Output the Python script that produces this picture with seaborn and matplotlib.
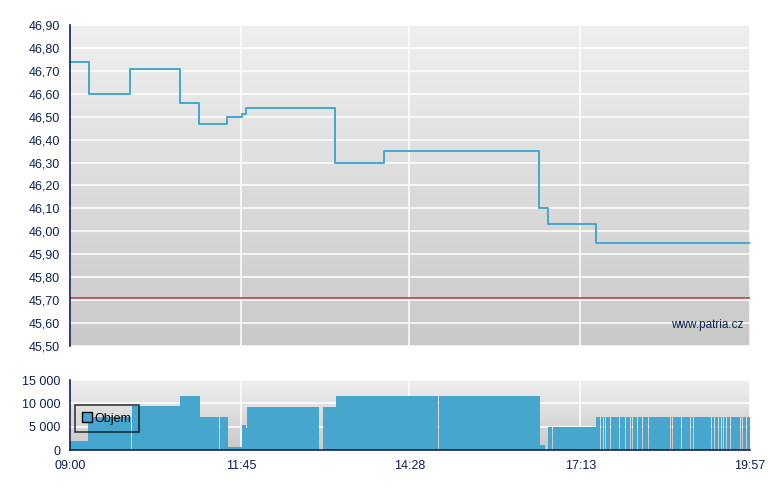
import numpy as np
import matplotlib
matplotlib.use("Agg")
import matplotlib.pyplot as plt
import seaborn as sns
from matplotlib.colors import LinearSegmentedColormap
from matplotlib.lines import Line2D

# ---------------- data ----------------
price_times = ["09:00", "09:18", "09:58", "10:46", "11:05", "11:32", "11:46",
               "11:50", "13:16", "14:03", "16:33", "16:42", "17:28", "19:57"]
price_values = [46.74, 46.60, 46.71, 46.56, 46.47, 46.50, 46.51,
                46.54, 46.30, 46.35, 46.10, 46.03, 45.95, 45.95]
prev_close = 45.71

vol_start = ["09:00", "09:17", "10:00", "10:46", "11:06", "11:25", "11:33", "11:46",
             "11:50", "11:51", "13:04", "13:17", "14:57", "16:34", "16:42", "16:47",
             "17:28", "17:33", "17:36", "17:38", "17:43", "17:48", "17:51", "17:57",
             "18:02", "18:04", "18:09", "18:14", "18:16", "18:19", "18:41", "18:43",
             "18:51", "19:00", "19:03", "19:20", "19:23", "19:27", "19:30", "19:32",
             "19:35", "19:39", "19:42", "19:48", "19:50", "19:54"]
vol_end = ["09:17", "09:59", "10:46", "11:06", "11:24", "11:33", "11:46", "11:50",
           "11:51", "13:01", "13:17", "14:56", "16:34", "16:39", "16:46", "17:28",
           "17:33", "17:36", "17:38", "17:43", "17:48", "17:51", "17:57", "18:02",
           "18:04", "18:09", "18:14", "18:16", "18:19", "18:41", "18:43", "18:51",
           "19:00", "19:03", "19:20", "19:23", "19:27", "19:30", "19:32", "19:35",
           "19:39", "19:42", "19:48", "19:50", "19:54", "19:57"]
vol_values = [2000, 7100, 9400, 11600, 7100, 7100, 700, 5400,
              4800, 9200, 9200, 11600, 11600, 1100, 4900, 4900,
              7000, 7000, 7000, 7000, 7000, 7000, 7000, 7000,
              7000, 7000, 7000, 7000, 7000, 7000, 7000, 7000,
              7000, 7000, 7000, 7000, 7000, 7000, 7000, 7000,
              7000, 7000, 7000, 7000, 7000, 7000]

price_ticks = [45.50, 45.60, 45.70, 45.80, 45.90, 46.00, 46.10, 46.20,
               46.30, 46.40, 46.50, 46.60, 46.70, 46.80, 46.90]
vol_ticks = [0, 5000, 10000, 15000]
vol_tick_labels = ["0", "5 000", "10 000", "15 000"]
time_ticks = ["09:00", "11:45", "14:28", "17:13", "19:57"]
legend_label = "Objem"
watermark = "www.patria.cz"


def tmin(s):
    h, m = s.split(":")
    return (int(h) - 9) * 60 + int(m)


# ---------------- style ----------------
sns.set_style("white")
plt.rcParams['font.family'] = ['Liberation Sans', 'DejaVu Sans']
navy = "#0d2252"
blue = "#46a6ce"
grad = LinearSegmentedColormap.from_list("g", ["#efefef", "#c9c9c9"])

fig = plt.figure(figsize=(7.8, 4.9), dpi=100)
ax1 = fig.add_axes([70 / 780, 1 - 346 / 490, 680 / 780, 321 / 490])
ax2 = fig.add_axes([70 / 780, 1 - 450 / 490, 680 / 780, 70 / 490])

xmin, xmax = tmin(time_ticks[0]), tmin(time_ticks[-1])
tick_pos = [tmin(t) for t in time_ticks]

for ax in (ax1, ax2):
    ax.imshow(np.linspace(0, 1, 256).reshape(-1, 1), cmap=grad, aspect="auto",
              extent=[0, 1, 0, 1], transform=ax.transAxes, zorder=0)
    ax.set_axisbelow(True)
    for s in ("top", "right"):
        ax.spines[s].set_visible(False)
    ax.spines["left"].set_color(navy)
    ax.spines["left"].set_linewidth(1.2)
    ax.spines["left"].set_zorder(5)
    ax.tick_params(axis="both", direction="out", length=4, width=1, color=navy,
                   labelcolor=navy, labelsize=9, pad=3)

# ---------------- price panel ----------------
px = [tmin(t) for t in price_times]
sns.lineplot(x=px, y=price_values, drawstyle="steps-post", color=blue,
             linewidth=1.4, ax=ax1, zorder=3)
ax1.axhline(prev_close, color="#b04040", linewidth=1.1, zorder=2.5)
ax1.set_xlim(xmin, xmax)
ax1.set_ylim(price_ticks[0], price_ticks[-1])
ax1.set_yticks(price_ticks)
ax1.set_yticklabels([f"{v:.2f}".replace(".", ",") for v in price_ticks])
ax1.set_xticks(tick_pos)
ax1.set_xticklabels([])
ax1.spines["bottom"].set_visible(False)
ax1.grid(True, color="white", linewidth=1.1)
ax1.text(0.99, 0.065, watermark, transform=ax1.transAxes, ha="right", va="center",
         color=navy, fontsize=8.5, zorder=4)

# ---------------- volume panel ----------------
vs = [tmin(t) for t in vol_start]
ve = [tmin(t) for t in vol_end]
widths = []
for i in range(len(vs)):
    w = ve[i] - vs[i]
    if i + 1 < len(vs) and vs[i + 1] == ve[i] and vol_values[i + 1] == vol_values[i]:
        w -= 0.9
    widths.append(w)
ax2.bar(vs, vol_values, width=widths, align="edge", color=blue, linewidth=0, zorder=2)
ax2.set_xlim(xmin, xmax)
ax2.set_ylim(vol_ticks[0], vol_ticks[-1])
ax2.set_yticks(vol_ticks)
ax2.set_yticklabels(vol_tick_labels)
ax2.set_xticks(tick_pos)
ax2.set_xticklabels(time_ticks)
ax2.spines["bottom"].set_color(navy)
ax2.spines["bottom"].set_linewidth(1.2)
ax2.spines["bottom"].set_zorder(5)
ax2.grid(True, color="white", linewidth=1.1)

handle = Line2D([], [], linestyle="none", marker="s", markersize=7,
                markerfacecolor=blue, markeredgecolor="black", markeredgewidth=1)
leg = ax2.legend([handle], [legend_label], loc="upper left",
                 bbox_to_anchor=(5 / 680, 45 / 70), borderaxespad=0,
                 frameon=True, fancybox=False, fontsize=9, handlelength=0.7,
                 handletextpad=0.25, borderpad=0.6)
leg.get_frame().set_edgecolor("black")
leg.get_frame().set_facecolor("none")
leg.get_frame().set_linewidth(1.1)
for t in leg.get_texts():
    t.set_color("black")

fig.savefig("out.png", dpi=100)
